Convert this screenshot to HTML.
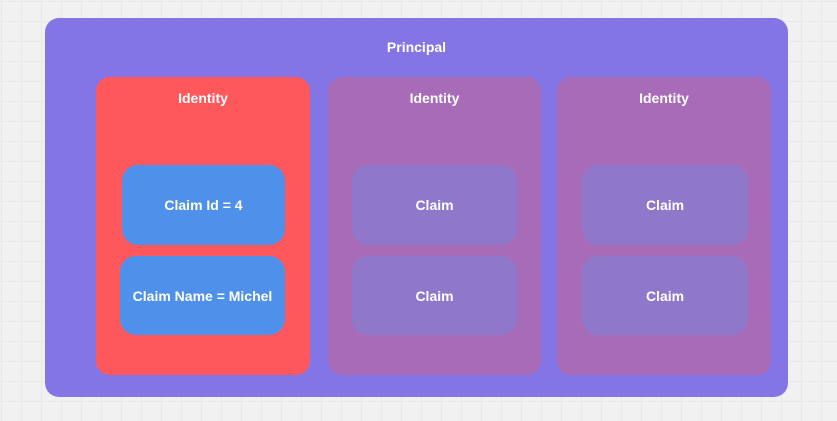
<!DOCTYPE html>
<html><head><style>
body{margin:0;width:837px;height:421px;overflow:hidden;background-color:#f1f1f1;
background-image:linear-gradient(#e8e8e8 1px,transparent 1px),linear-gradient(90deg,#e8e8e8 1px,transparent 1px);
background-size:20px 20px;background-position:0 1px,1px 0;position:relative;font-family:"Liberation Sans",sans-serif;}
.b{position:absolute;box-sizing:border-box;color:#fff;font-weight:bold;font-size:14px;text-align:center}
.c{display:flex;align-items:center;justify-content:center;border-radius:16px}
</style></head><body>
<div class="b" style="left:45px;top:18px;width:743px;height:379px;background:#8475e6;border-radius:14px;padding-top:21px">Principal</div>
<div class="b" style="left:96px;top:77px;width:214px;height:298px;background:#ff585c;border-radius:14px;padding-top:13px">Identity</div>
<div class="b" style="left:328px;top:77px;width:213px;height:298px;background:#a86bb8;border-radius:14px;padding-top:13px">Identity</div>
<div class="b" style="left:557px;top:77px;width:214px;height:298px;background:#a86bb8;border-radius:14px;padding-top:13px">Identity</div>
<div class="b c" style="left:122px;top:165px;width:163px;height:80px;background:#4f91ea">Claim Id = 4</div>
<div class="b c" style="left:120px;top:256px;width:165px;height:79px;background:#4f91ea">Claim Name = Michel</div>
<div class="b c" style="left:352px;top:165px;width:165px;height:80px;background:#8f78c9">Claim</div>
<div class="b c" style="left:352px;top:256px;width:165px;height:79px;background:#8f78c9">Claim</div>
<div class="b c" style="left:582px;top:165px;width:166px;height:80px;background:#8f78c9">Claim</div>
<div class="b c" style="left:582px;top:256px;width:166px;height:79px;background:#8f78c9">Claim</div>
</body></html>
